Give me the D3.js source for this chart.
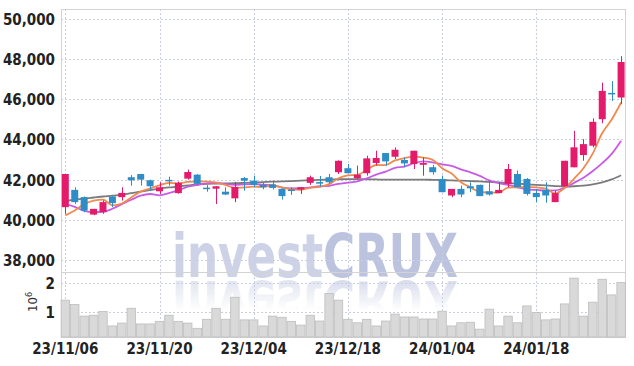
<!DOCTYPE html>
<html><head><meta charset="utf-8">
<script src="https://cdn.jsdelivr.net/npm/d3@7"></script>
<style>
body{margin:0;background:#fff;}
svg text{font-family:"Liberation Sans Narrow","DejaVu Sans Condensed","Liberation Sans",sans-serif;}
</style>
</head><body>
<svg id="chart" width="634" height="366"></svg>
<script>
const dates = ["23/11/06","23/11/07","23/11/08","23/11/09","23/11/10","23/11/13","23/11/14","23/11/15","23/11/16","23/11/17",
"23/11/20","23/11/21","23/11/22","23/11/23","23/11/24","23/11/27","23/11/28","23/11/29","23/11/30","23/12/01",
"23/12/04","23/12/05","23/12/06","23/12/07","23/12/08","23/12/11","23/12/12","23/12/13","23/12/14","23/12/15",
"23/12/18","23/12/19","23/12/20","23/12/21","23/12/22","23/12/26","23/12/27","23/12/28","24/01/02","24/01/03",
"24/01/04","24/01/05","24/01/08","24/01/09","24/01/10","24/01/11","24/01/12","24/01/15","24/01/16","24/01/17",
"24/01/18","24/01/19","24/01/22","24/01/23","24/01/24","24/01/25","24/01/26","24/01/29","24/01/30","24/01/31"];
const open  = [40630,41490,41130,40260,40380,41160,41130,42120,42280,41970,41420,41990,41330,42050,42250,41600,41550,41400,41070,42080,
41950,41740,41760,41540,41510,41510,41840,41880,42120,42370,42570,42070,42320,42830,43325,43140,42980,42780,42740,42620,
42035,41210,41540,41670,41740,41420,41330,41790,42280,42035,41340,41490,40880,41670,42615,43225,43690,45010,46320,46090];
const high  = [42280,41620,41160,40545,40960,41180,41620,42230,42290,42000,41870,42150,41900,42500,42280,41730,41670,41620,41890,42130,
42200,41850,41960,41560,41620,41640,42200,42180,42280,42960,42780,42700,43190,43440,43330,43610,43110,43440,43110,42740,
42200,41540,41700,41870,41750,41950,41870,42780,42450,42080,41540,41870,41450,42940,44430,44020,45050,46830,46910,48150];
const low   = [40300,40790,40380,40230,40300,40630,40960,41700,41700,41450,41290,41700,41300,42000,41700,41400,40790,41230,40880,41450,
41620,41520,41510,41010,41240,41290,41740,41650,41790,42280,42320,42040,42200,42700,42700,43030,42620,42530,42200,42250,
41370,41130,41130,41375,41180,41210,41330,41620,41620,41210,40880,40850,40880,41670,42615,42940,43610,44810,45920,45760];
const close = [42280,40880,40460,40545,40880,40830,41340,41970,42000,41670,41620,41940,41840,42380,41790,41570,41670,41260,41640,41950,
41740,41620,41590,41180,41460,41620,42120,41800,41870,42940,42320,42250,43060,43080,42910,43490,42810,43440,42830,42370,
41375,41540,41260,41570,41180,41260,41490,42530,41620,41290,41130,41210,41330,42940,43610,43770,44880,46420,46280,47860];
const volume = [1400000,1250000,850000,880000,1010000,510000,610000,1120000,580000,580000,670000,880000,670000,610000,430000,740000,1120000,740000,1500000,720000,
720000,510000,850000,810000,670000,540000,880000,680000,1630000,1400000,740000,620000,740000,510000,680000,920000,820000,820000,750000,750000,
1020000,510000,620000,640000,400000,1090000,510000,850000,620000,1200000,970000,720000,750000,1270000,2160000,850000,1330000,2120000,1580000,2010000];
const ma5 = [40220,40460,40780,40960,41009,40719,40811,41113,41404,41562,41720,41840,41814,41890,41914,41904,41850,41734,41586,41618,
41652,41642,41708,41616,41518,41494,41594,41636,41774,42070,42210,42236,42488,42730,42724,42958,43070,43146,43096,42988,
42565,42311,41875,41623,41385,41362,41352,41606,41616,41638,41612,41556,41316,41580,42044,42572,43306,44324,44992,45842];
const ma10 = [40800,40640,40450,40380,40400,40550,40780,41000,41200,41286,41220,41326,41464,41647,41738,41812,41845,41774,41738,41766,
41778,41746,41721,41601,41568,41573,41618,41672,41695,41794,41852,41915,42062,42252,42397,42584,42653,42817,42913,42856,
42762,42691,42511,42360,42187,41964,41832,41741,41620,41512,41487,41454,41461,41598,41841,42092,42431,42820,43286,43943];
const ma60 = [40930,41000,41060,41110,41160,41200,41250,41330,41400,41480,41550,41610,41660,41710,41760,41790,41800,41810,41820,41840,
41860,41880,41900,41910,41930,41950,41970,41990,42000,42020,42030,42030,42020,42010,42000,42000,42000,42000,42000,41990,
41980,41960,41950,41930,41910,41890,41860,41830,41800,41770,41740,41710,41680,41660,41670,41700,41760,41860,42010,42220];
const priceTicks = [38000,40000,42000,44000,46000,48000,50000];
const volumeTicks = [1000000,2000000];
const dateTicks = ["23/11/06","23/11/20","23/12/04","23/12/18","24/01/04","24/01/18"];

const UP = "#e41b6b", DOWN = "#2e8dc6";
const L = 61, R = 626, PT = 9, PB = 272, VB = 337;
const svg = d3.select("#chart");

const x = d3.scaleBand().domain(dates).range([60.6, 625.8]).padding(0);
const bw = x.bandwidth();
const cx = d => x(d) + bw/2;
const y = d3.scaleLinear().domain([37400, 50500]).range([PB, PT]);
const yv = d3.scaleLinear().domain([130000, 2370000]).range([VB, PB]);

const data = dates.map((d,i)=>({d, o:open[i], h:high[i], l:low[i], c:close[i], v:volume[i], m5:ma5[i], m10:ma10[i], m60:ma60[i]}));

// watermark with reflection
const defs = svg.append("defs");
const grad = defs.append("linearGradient").attr("id","fade").attr("x1",0).attr("y1",0).attr("x2",0).attr("y2",1);
grad.append("stop").attr("offset","0%").attr("stop-color","#fff").attr("stop-opacity",0.6);
grad.append("stop").attr("offset","100%").attr("stop-color","#fff").attr("stop-opacity",0);
defs.append("mask").attr("id","refmask").attr("maskUnits","userSpaceOnUse")
  .append("rect").attr("x",0).attr("y",279).attr("width",634).attr("height",32).attr("fill","url(#fade)");

function watermark(g){
  const t = g.append("text").attr("x",172).attr("y",277)
    .attr("textLength",286).attr("lengthAdjust","spacingAndGlyphs")
    .style("font-family","'DejaVu Sans',sans-serif").style("font-weight","bold").style("font-size","60px");
  t.append("tspan").attr("fill","#cdd2e6").text("invest");
  t.append("tspan").attr("fill","#bcc3de").text("CRUX");
}
watermark(svg.append("g"));
watermark(svg.append("g").attr("mask","url(#refmask)").append("g").attr("transform","translate(0,558) scale(1,-1)"));

// grid
const grid = svg.append("g").attr("stroke","#c9cee3").attr("stroke-dasharray","2,2").attr("stroke-width",1);
grid.selectAll(".hp").data(priceTicks).join("line").attr("x1",L).attr("x2",R)
  .attr("y1",d=>Math.round(y(d))+0.5).attr("y2",d=>Math.round(y(d))+0.5);
grid.selectAll(".hv").data(volumeTicks).join("line").attr("class","hv").attr("x1",L).attr("x2",R)
  .attr("y1",d=>Math.round(yv(d))+0.5).attr("y2",d=>Math.round(yv(d))+0.5);
grid.selectAll(".vx").data(dateTicks).join("line").attr("class","vx")
  .attr("x1",d=>Math.round(cx(d))+0.5).attr("x2",d=>Math.round(cx(d))+0.5).attr("y1",PT).attr("y2",VB);

// frame
const frame = svg.append("g").attr("fill","none").attr("stroke","#d3d3d3");
frame.append("rect").attr("x",L+0.5).attr("y",PT+0.5).attr("width",R-L-1).attr("height",VB-PT);
frame.append("line").attr("x1",L).attr("x2",R).attr("y1",PB+0.5).attr("y2",PB+0.5);

// volume bars
svg.append("g").selectAll("rect").data(data).join("rect")
  .attr("x",d=>x(d.d)+0.5).attr("width",bw-1)
  .attr("y",d=>yv(d.v)).attr("height",d=>VB-yv(d.v))
  .attr("fill","#d9d9d9").attr("stroke","#bdbdbd").attr("stroke-width",0.8);

// moving-average lines
const line = key => d3.line().x(d=>cx(d.d)).y(d=>y(d[key])).curve(d3.curveMonotoneX);
[["m60","#7b7b7b"],["m10","#c85be6"],["m5","#f08a4e"]].forEach(([k,c])=>{
  svg.append("path").datum(data).attr("d",line(k)).attr("fill","none").attr("stroke",c).attr("stroke-width",1.8);
});

// candles
const cg = svg.append("g").selectAll("g").data(data).join("g");
cg.append("line").attr("x1",d=>Math.round(cx(d.d))+0.5).attr("x2",d=>Math.round(cx(d.d))+0.5)
  .attr("y1",d=>y(d.h)).attr("y2",d=>y(d.l)).attr("stroke",d=>d.c>=d.o?UP:DOWN).attr("stroke-width",1);
cg.append("rect").attr("x",d=>cx(d.d)-3.5).attr("width",7)
  .attr("y",d=>y(Math.max(d.o,d.c))).attr("height",d=>Math.max(1.5,Math.abs(y(d.o)-y(d.c))))
  .attr("fill",d=>d.c>=d.o?UP:DOWN);

// axes labels
const ax = svg.append("g").attr("fill","#222").style("font-size","15px").style("font-weight","bold");
ax.selectAll(".pl").data(priceTicks).join("text").attr("x",55).attr("y",d=>y(d)).attr("dy","0.4em")
  .attr("text-anchor","end").text(d3.format(","));
ax.selectAll(".vl").data(volumeTicks).join("text").attr("class","vl").attr("x",55).attr("y",d=>yv(d)).attr("dy","0.4em")
  .attr("text-anchor","end").text(d=>d/1e6);
ax.selectAll(".dl").data(dateTicks).join("text").attr("class","dl").attr("x",d=>cx(d)).attr("y",354)
  .attr("text-anchor","middle").text(d=>d);
const u = svg.append("text").attr("transform","translate(37,312) rotate(-90)").attr("fill","#333").style("font-size","13px");
u.append("tspan").text("10");
u.append("tspan").attr("dy","-5").style("font-size","9px").text("6");
</script>
</body></html>
